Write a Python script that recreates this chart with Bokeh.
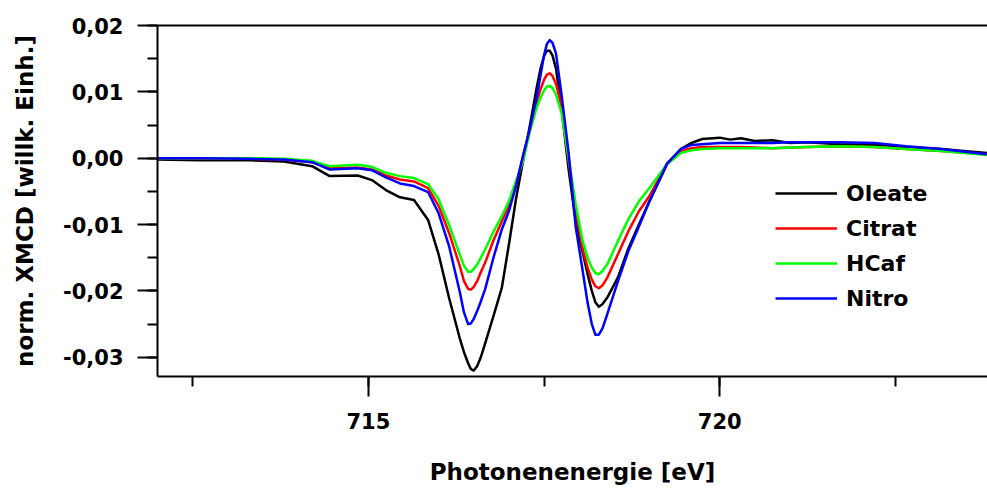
from bokeh.plotting import figure
from bokeh.models import (Range1d, SingleIntervalTicker, LinearAxis, FixedTicker,
                          CustomJSTickFormatter, Legend, LegendItem)
from bokeh.embed import file_html
from bokeh.resources import INLINE

energy = [712.0, 712.6, 713.3, 713.8, 714.2, 714.45, 714.85, 715.05, 715.25, 715.45,
          715.65, 715.85, 716.0, 716.15, 716.3, 716.36, 716.42, 716.46, 716.5, 716.55,
          716.6, 716.66, 716.78, 716.9, 717.0, 717.1, 717.2, 717.3, 717.4, 717.45,
          717.5, 717.54, 717.58, 717.62, 717.67, 717.75, 717.85, 717.95, 718.05, 718.12,
          718.18, 718.23, 718.28, 718.33, 718.4, 718.55, 718.7, 718.85, 719.0, 719.25,
          719.45, 719.6, 719.75, 720.0, 720.15, 720.3, 720.5, 720.75, 721.0, 721.25,
          721.7, 722.2, 722.65, 723.15, 723.8]

oleate = [-0.0002, -0.0003, -0.0003, -0.0005, -0.0012, -0.0027, -0.0026, -0.0033, -0.0048, -0.0059,
          -0.0063, -0.0093, -0.0145, -0.0211, -0.0271, -0.0292, -0.0309, -0.0318, -0.0320, -0.0313,
          -0.0300, -0.0280, -0.0238, -0.0195, -0.0130, -0.0062, -0.0005, 0.0050, 0.0109, 0.0135,
          0.0154, 0.0162, 0.0162, 0.0155, 0.0135, 0.0075, -0.0017, -0.0095, -0.0142, -0.0175,
          -0.0200, -0.0217, -0.0224, -0.0220, -0.0210, -0.0180, -0.0136, -0.0100, -0.0065, -0.0009,
          0.0014, 0.0023, 0.0029, 0.0031, 0.0028, 0.0030, 0.0026, 0.0027, 0.0023, 0.0024,
          0.0021, 0.0020, 0.0017, 0.0014, 0.0008]

citrat = [0.0000, -0.0001, -0.0001, -0.0002, -0.0006, -0.0015, -0.0014, -0.0017, -0.0026, -0.0032,
          -0.0035, -0.0045, -0.0072, -0.0113, -0.0162, -0.0185, -0.0197, -0.0198, -0.0194, -0.0185,
          -0.0172, -0.0158, -0.0124, -0.0095, -0.0072, -0.0042, 0.0003, 0.0044, 0.0086, 0.0104,
          0.0118, 0.0126, 0.0128, 0.0124, 0.0112, 0.0078, -0.0005, -0.0077, -0.0137, -0.0165,
          -0.0183, -0.0193, -0.0196, -0.0192, -0.0180, -0.0145, -0.0110, -0.0080, -0.0057, -0.0008,
          0.0011, 0.0015, 0.0017, 0.0017, 0.0017, 0.0017, 0.0016, 0.0015, 0.0016, 0.0017,
          0.0018, 0.0017, 0.0014, 0.0011, 0.0006]

hcaf = [0.0000, 0.0000, 0.0000, -0.0001, -0.0004, -0.0012, -0.0010, -0.0013, -0.0022, -0.0027,
        -0.0030, -0.0039, -0.0062, -0.0101, -0.0145, -0.0162, -0.0171, -0.0171, -0.0167, -0.0160,
        -0.0150, -0.0138, -0.0111, -0.0087, -0.0065, -0.0035, -0.0005, 0.0041, 0.0078, 0.0091,
        0.0102, 0.0108, 0.0109, 0.0106, 0.0096, 0.0068, 0.0000, -0.0069, -0.0125, -0.0150,
        -0.0165, -0.0173, -0.0175, -0.0170, -0.0160, -0.0125, -0.0092, -0.0065, -0.0045, -0.0009,
        0.0008, 0.0012, 0.0014, 0.0015, 0.0015, 0.0015, 0.0015, 0.0015, 0.0016, 0.0017,
        0.0018, 0.0017, 0.0014, 0.0011, 0.0005]

nitro = [0.0000, 0.0000, -0.0001, -0.0002, -0.0006, -0.0017, -0.0015, -0.0018, -0.0029, -0.0038,
         -0.0042, -0.0051, -0.0083, -0.0133, -0.0201, -0.0232, -0.0250, -0.0249, -0.0242, -0.0230,
         -0.0216, -0.0198, -0.0150, -0.0107, -0.0080, -0.0042, 0.0003, 0.0045, 0.0094, 0.0125,
         0.0155, 0.0172, 0.0178, 0.0174, 0.0158, 0.0095, 0.0008, -0.0103, -0.0170, -0.0218,
         -0.0250, -0.0266, -0.0266, -0.0257, -0.0235, -0.0186, -0.0140, -0.0103, -0.0065, -0.0008,
         0.0014, 0.0020, 0.0021, 0.0023, 0.0023, 0.0023, 0.0023, 0.0023, 0.0024, 0.0024,
         0.0024, 0.0023, 0.0018, 0.0014, 0.0006]

series_names = ["Oleate", "Citrat", "HCaf", "Nitro"]
series_colors = ["#000000", "#ff0000", "#00ff00", "#0000ff"]
series_values = [oleate, citrat, hcaf, nitro]

FONT = "DejaVu Sans"

p = figure(width=987, height=490, output_backend="svg", toolbar_location=None,
           x_range=Range1d(712.0, 723.81), y_range=Range1d(-0.0329, 0.02),
           min_border_left=157, min_border_right=0, min_border_top=25, min_border_bottom=114,
           x_axis_label="Photonenenergie [eV]", y_axis_label="norm. XMCD [willk. Einh.]")
p.xgrid.visible = False
p.ygrid.visible = False
p.outline_line_color = None
p.background_fill_color = "white"
p.border_fill_color = "white"

renderers = []
for name, col, vals in zip(series_names, series_colors, series_values):
    r = p.line(energy, vals, line_color=col, line_width=2.5, line_join="round")
    renderers.append((name, r))

for ax in (p.xaxis[0], p.yaxis[0]):
    ax.axis_line_width = 2
    ax.axis_line_color = "black"
    ax.major_tick_line_width = 2
    ax.minor_tick_line_width = 2
    ax.major_tick_line_color = "black"
    ax.minor_tick_line_color = "black"
    ax.major_tick_in = 0
    ax.minor_tick_in = 0
    ax.major_tick_out = 20
    ax.minor_tick_out = 10
    ax.major_label_text_font = FONT
    ax.major_label_text_font_style = "bold"
    ax.major_label_text_font_size = "21px"
    ax.major_label_text_color = "black"
    ax.axis_label_text_font = FONT
    ax.axis_label_text_font_style = "bold"
    ax.axis_label_text_color = "black"

p.xaxis[0].ticker = SingleIntervalTicker(interval=5, num_minor_ticks=2)
p.yaxis[0].ticker = SingleIntervalTicker(interval=0.01, num_minor_ticks=2)
p.yaxis[0].formatter = CustomJSTickFormatter(code="""
    var t = Math.abs(tick) < 1e-9 ? 0 : tick;
    return t.toFixed(2).replace('.', ',');
""")
p.xaxis[0].formatter = CustomJSTickFormatter(code="return tick.toFixed(0);")
p.yaxis[0].major_label_standoff = 14
p.xaxis[0].major_label_standoff = 16
p.xaxis[0].axis_label_text_font_size = "23px"
p.yaxis[0].axis_label_text_font_size = "23px"
p.xaxis[0].axis_label_standoff = 27
p.yaxis[0].axis_label_standoff = 22

top_axis = LinearAxis(ticker=FixedTicker(ticks=[]), axis_line_width=2, axis_line_color="black",
                      major_tick_line_color=None, minor_tick_line_color=None,
                      major_tick_out=0, minor_tick_out=0, major_label_standoff=0,
                      major_label_text_font_size="0px")
p.add_layout(top_axis, "above")

legend = Legend(items=[LegendItem(label=n, renderers=[r]) for n, r in renderers],
                location=(618, 65), padding=0, margin=0, spacing=9,
                glyph_width=62, glyph_height=26, label_height=26, label_standoff=9,
                label_text_font=FONT, label_text_font_style="bold", label_text_font_size="22px",
                label_text_color="black", border_line_color=None, background_fill_alpha=0)
p.add_layout(legend)

open("out.html", "w").write(file_html(p, INLINE))
